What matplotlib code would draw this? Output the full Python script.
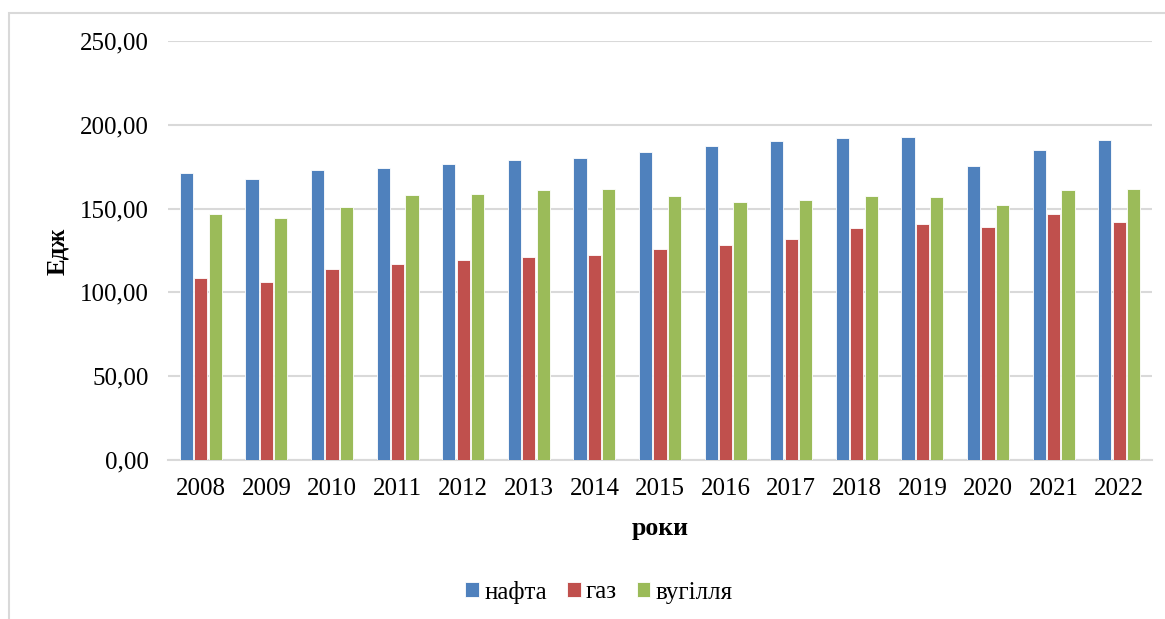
import matplotlib.pyplot as plt
import numpy as np
from matplotlib.patches import Rectangle

plt.rcParams['font.family'] = ['Liberation Serif', 'DejaVu Serif']

years = ['2008', '2009', '2010', '2011', '2012', '2013', '2014', '2015',
         '2016', '2017', '2018', '2019', '2020', '2021', '2022']
oil = [171.4, 167.9, 173.0, 174.4, 176.8, 178.8, 180.2, 183.7,
       187.4, 190.4, 192.3, 192.8, 175.2, 185.1, 190.9]
gas = [108.3, 106.0, 114.0, 116.7, 119.6, 121.4, 122.6, 125.6,
       128.4, 131.9, 138.5, 141.0, 139.3, 146.8, 142.3]
coal = [147.0, 144.6, 151.2, 158.3, 158.7, 161.1, 161.7, 157.5,
        154.0, 155.4, 157.7, 157.1, 152.4, 160.9, 161.7]
series = {'нафта': (oil, '#4F81BD'), 'газ': (gas, '#C0504D'), 'вугілля': (coal, '#9BBB59')}

fig = plt.figure(figsize=(11.65, 6.19), dpi=100)
ax = fig.add_axes([168 / 1165, 1 - 460 / 619, (1152 - 168) / 1165, (460 - 41) / 619])

# outer chart frame (runs off right/bottom edges)
fig.patches.append(Rectangle((9 / 1165, -0.1), 1.2, 1 - 13 / 619 + 0.1,
                             transform=fig.transFigure, fill=False,
                             edgecolor='#D9D9D9', linewidth=1.5))

x = np.arange(len(years))
width = 0.2
step = 0.22
for i, (name, (vals, color)) in enumerate(series.items()):
    ax.bar(x + (i - 1) * step, vals, width, color=color, label=name,
           edgecolor='white', linewidth=0.6, zorder=3)

ax.set_xlim(-0.5, len(years) - 0.5)
ax.set_ylim(0, 250)
ax.set_yticks(np.arange(0, 251, 50))
ax.set_yticklabels([f'{v:.2f}'.replace('.', ',') for v in np.arange(0, 251, 50)])
ax.set_xticks(x, years)
ax.tick_params(length=0, labelsize=18, pad=13)
ax.tick_params(axis='y', pad=14)
ax.grid(axis='y', color='#D9D9D9', linewidth=1.5, zorder=0)
for s in ['top', 'right', 'left']:
    ax.spines[s].set_visible(False)
ax.spines['bottom'].set_color('#D9D9D9')
ax.spines['bottom'].set_linewidth(1.5)

ax.set_xlabel('роки', fontsize=18.5, fontweight='bold', labelpad=12)
fig.text(58 / 1165, 1 - 251 / 619, 'Едж', rotation=90, fontsize=18,
         fontweight='bold', ha='center', va='center')

fig.legend(loc='center', bbox_to_anchor=(599 / 1165, 1 - 592 / 619), ncols=3,
           frameon=False, fontsize=18, handlelength=0.55, handleheight=0.55,
           handletextpad=0.2, columnspacing=0.8)

fig.savefig('out.png', dpi=100)
